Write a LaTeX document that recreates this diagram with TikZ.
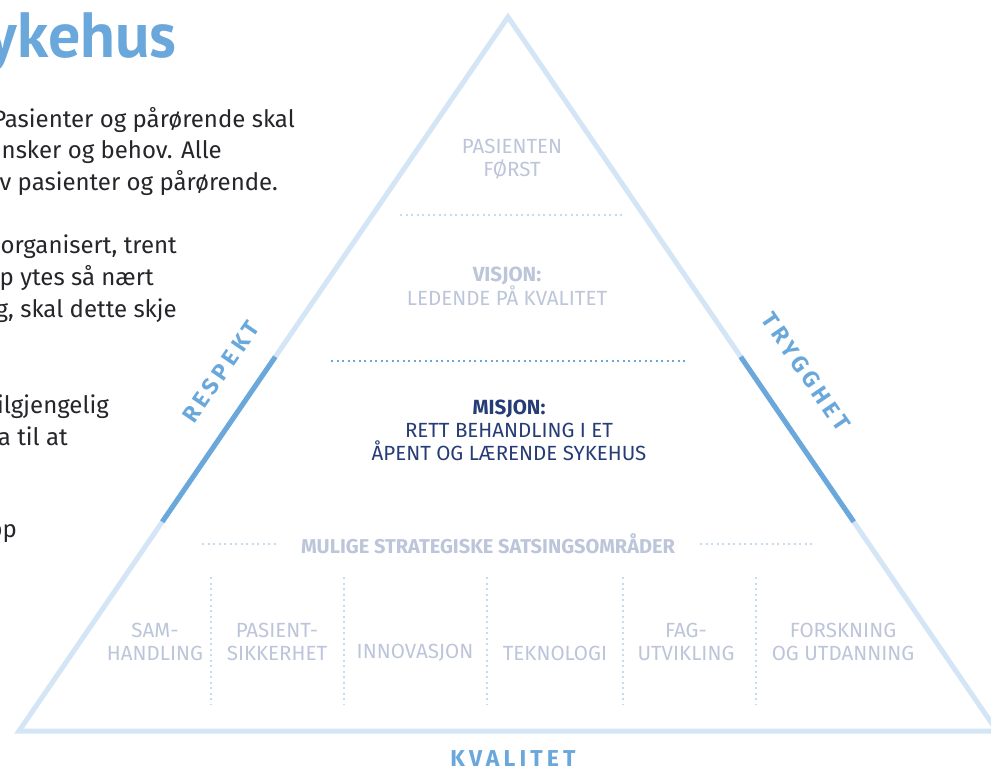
\documentclass[tikz,border=0pt]{standalone}
\usepackage{fontspec}
\setmainfont{Fira Sans}
\newfontfamily\spacedfont[LetterSpace=18]{Fira Sans}
\newfontfamily\titlefont{PT Sans}
\usetikzlibrary{calc}

\definecolor{pyrline}{RGB}{212,229,246}
\definecolor{sideblue}{RGB}{106,168,220}
\definecolor{pyrtext}{RGB}{188,197,218}
\definecolor{misjonblue}{RGB}{38,60,118}
\definecolor{dotblue}{RGB}{196,220,242}
\definecolor{bodytext}{RGB}{38,38,42}

\begin{document}
\begin{tikzpicture}[x=1pt, y=-1pt,
    pyr text/.style={text=pyrtext, font=\fontsize{20.5}{23}\selectfont, align=center, inner sep=0pt},
    side label/.style={text=sideblue, font=\spacedfont\bfseries\fontsize{23}{26}\selectfont, inner sep=0pt},
    body line/.style={text=bodytext, font=\fontsize{24}{30}\selectfont, anchor=base east, inner sep=0pt},
    dots/.style={dotblue, line width=2pt, dash pattern=on 2pt off 3.5pt}]
  \useasboundingbox (0,0) rectangle (991,769);
  \fill[white] (0,0) rectangle (991,769);

  % text column, cut at the left edge
  \node[text=sideblue, font=\titlefont\bfseries\fontsize{64}{70}\selectfont, anchor=base east, inner sep=0pt] (title) at (177,57) {ykehus};
  \node[body line] (p1a) at (295,127) {Pasienter og pårørende skal};
  \node[body line] (p1b) at (222,158) {nsker og behov. Alle};
  \node[body line] (p1c) at (278,190) {v pasienter og pårørende.};
  \node[body line] (p2a) at (177,253) {organisert, trent};
  \node[body line] (p2b) at (154,285) {p ytes så nært};
  \node[body line] (p2c) at (177,317) {g, skal dette skje};
  \node[body line] (p3a) at (109,413) {ilgjengelig};
  \node[body line] (p3b) at (68,445) {a til at};
  \node[body line] (p4a) at (17,537) {pp};

  % pyramid
  \coordinate (apex) at (508,17);
  \coordinate (baseL) at (19,731);
  \coordinate (baseR) at (997,731);
  \draw[pyrline, line width=5pt] (baseL) -- (apex) -- (baseR) -- cycle;
  \draw[sideblue, line width=5pt] ($(apex)!0.476!(baseL)$) -- ($(apex)!0.707!(baseL)$);
  \draw[sideblue, line width=5pt] ($(apex)!0.476!(baseR)$) -- ($(apex)!0.707!(baseR)$);

  % separators
  \draw[dots] (400,215) -- (622,215);
  \draw[dots, sideblue] (331,361) -- (686,361);
  \draw[dots] (202,544) -- (278,544);
  \draw[dots] (700,544) -- (812,544);
  \foreach \x in {211,344,487,623,756}
    \draw[dots] (\x,577) -- (\x,704);

  % levels
  \node[pyr text] (first) at (512,159.5) {PASIENTEN\\FØRST};
  \node[pyr text] (visjon) at (507,286.5) {\textbf{VISJON:}\\LEDENDE PÅ KVALITET};
  \node[pyr text, text=misjonblue] (misjon) at (509,430) {\textbf{MISJON:}\\RETT BEHANDLING I ET\\ÅPENT OG LÆRENDE SYKEHUS};
  \node[pyr text, font=\bfseries\fontsize{20}{22}\selectfont] (areas) at (488,544) {MULIGE STRATEGISKE SATSINGSOMRÅDER};

  % areas
  \node[pyr text] (samh) at (155,641.5) {SAM-\\HANDLING};
  \node[pyr text] (sikk) at (277,641.5) {PASIENT-\\SIKKERHET};
  \node[pyr text] (innov) at (415,653) {INNOVASJON};
  \node[pyr text] (tekn) at (555,653) {TEKNOLOGI};
  \node[pyr text] (fagutv) at (686,641.5) {FAG-\\UTVIKLING};
  \node[pyr text] (forsk) at (843,641.5) {FORSKNING\\OG UTDANNING};

  % sides
  \node[side label, rotate=55.6] (respekt) at (221,372) {RESPEKT};
  \node[side label, rotate=-55.6] (trygghet) at (806,372) {TRYGGHET};
  \node[side label] (kvalitet) at (513,759) {KVALITET};
\end{tikzpicture}
\end{document}
